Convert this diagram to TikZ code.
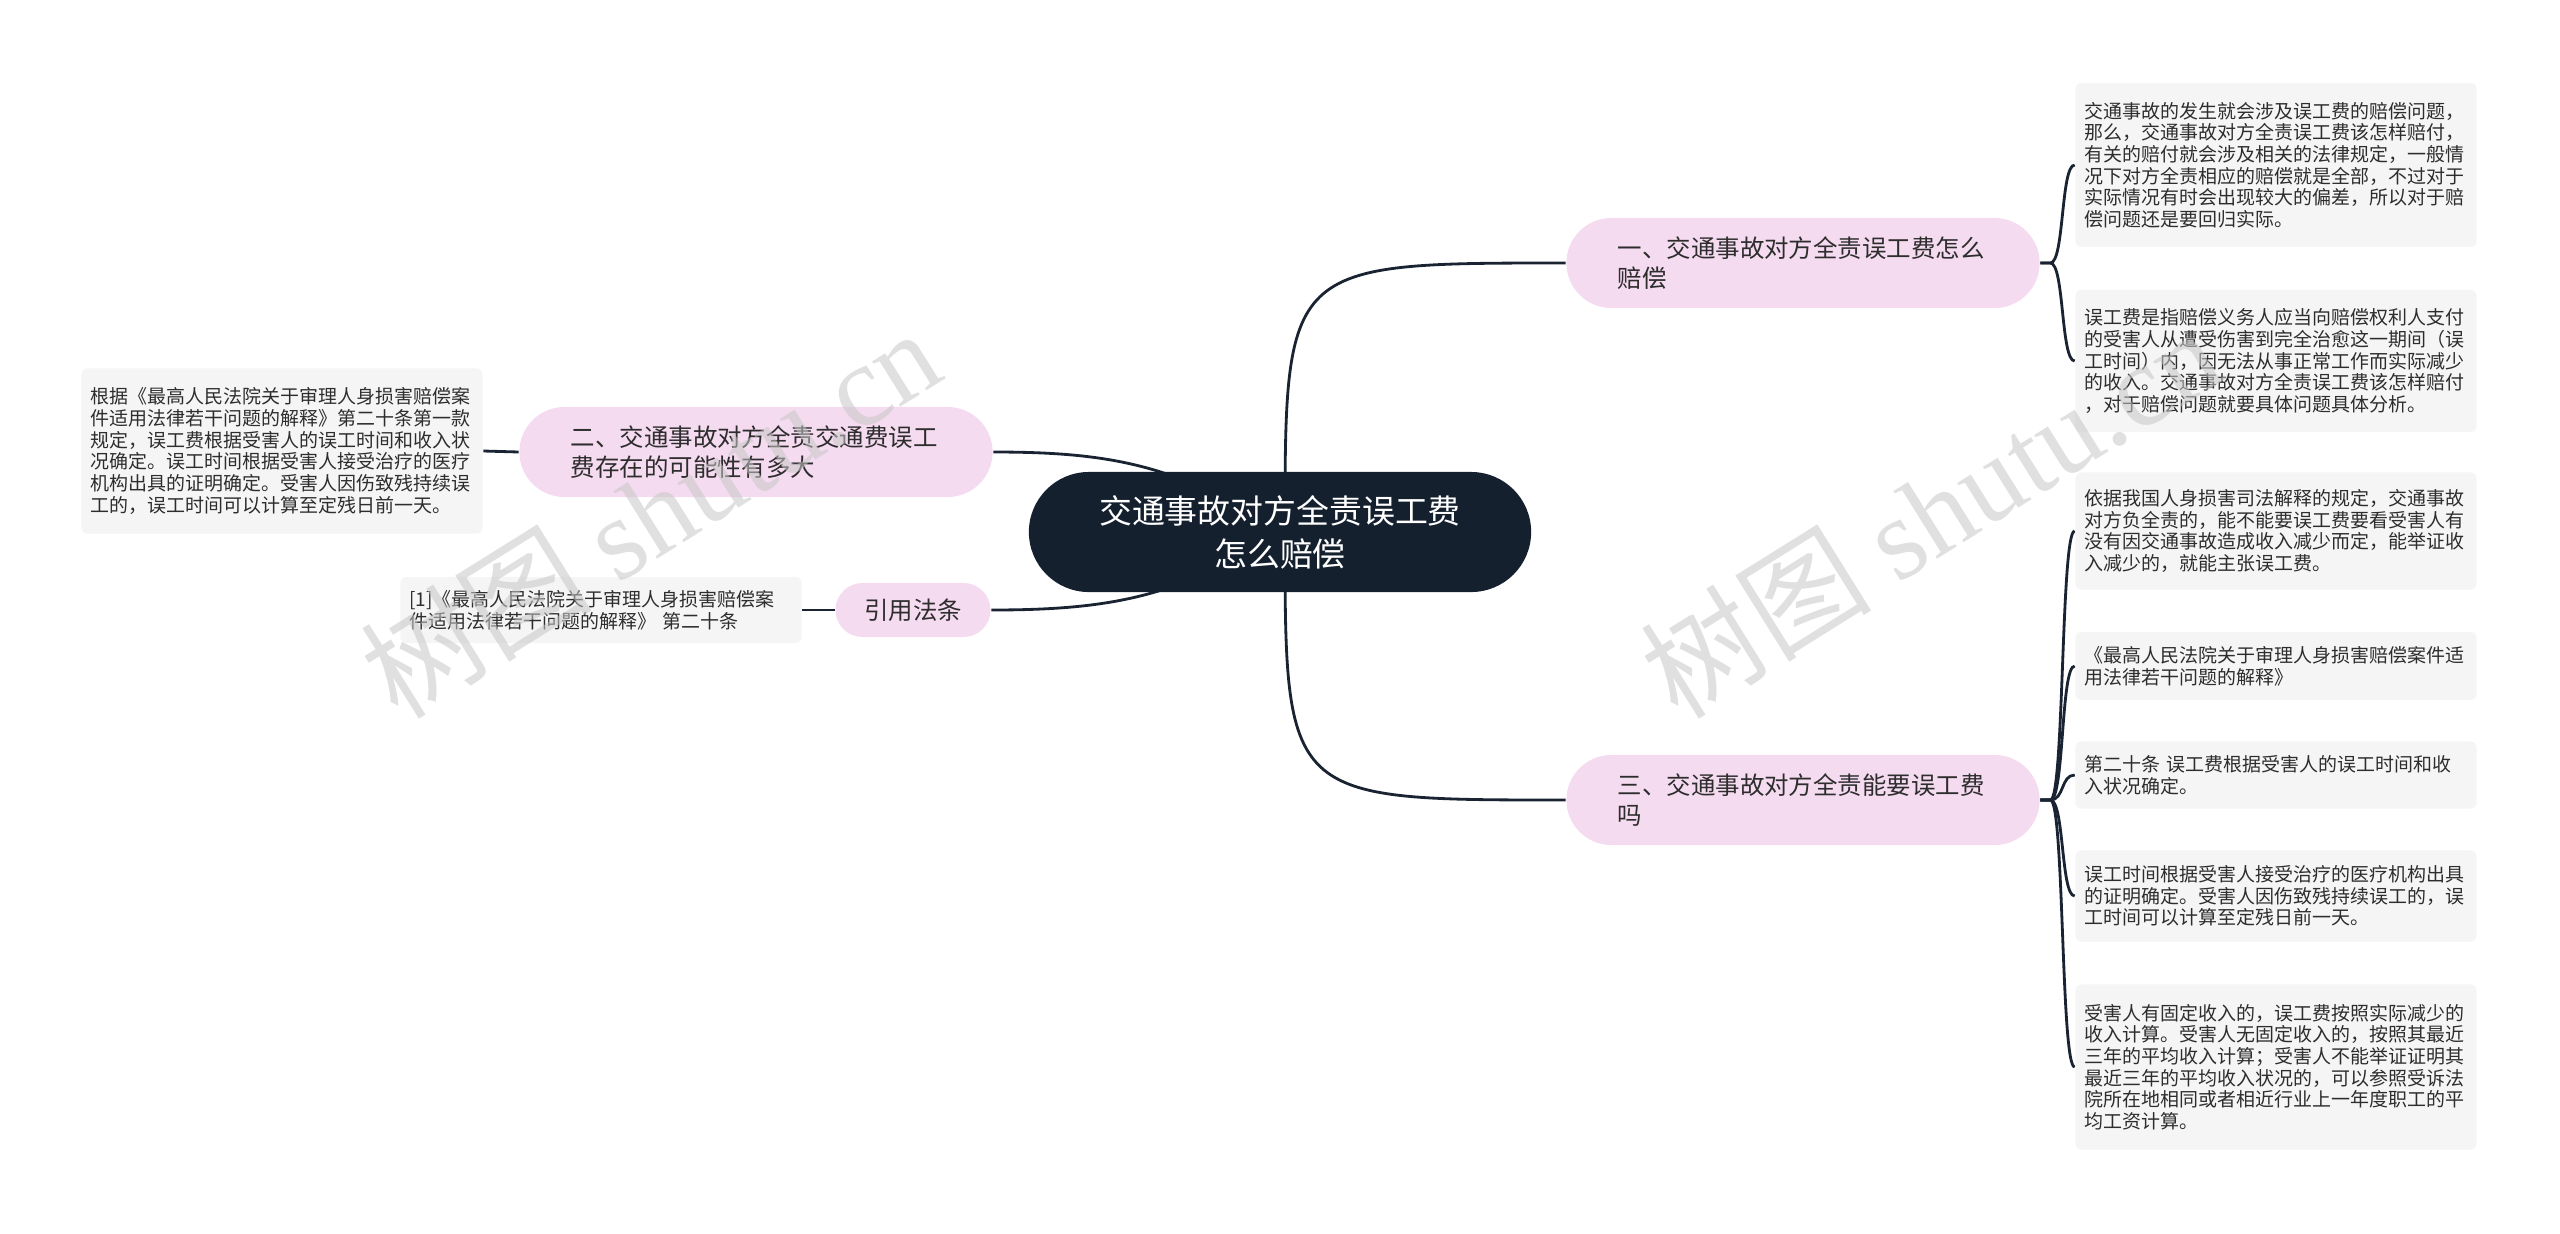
\documentclass[tikz,border=0pt]{standalone}
\usepackage{fontspec}
\setmainfont{Noto Sans CJK SC}
\newfontfamily\wmfont{Liberation Serif}
\usetikzlibrary{backgrounds,calc}

% Colours of the map
\definecolor{rootblue}{RGB}{21,32,47}
\definecolor{branchpink}{RGB}{245,219,240}
\definecolor{leafgray}{RGB}{245,245,245}
\definecolor{linedark}{RGB}{25,35,50}
\definecolor{textdark}{RGB}{45,45,45}

\tikzset{
  rootbox/.style={fill=rootblue, text=white, rounded corners=0.6cm,
    minimum width=5.02cm, minimum height=1.2cm, align=center,
    font=\fontsize{9.35}{12.2}\selectfont},
  branchbox/.style={fill=branchpink, text=textdark, rounded corners=0.45cm,
    minimum width=4.73cm, minimum height=0.9cm, text width=3.7cm, align=left,
    font=\fontsize{6.95}{8.5}\selectfont},
  leafbox/.style={fill=leafgray, text=textdark, rounded corners=0.06cm,
    text width=3.83cm, inner xsep=0.09cm, align=left,
    font=\fontsize{5.4}{6.17}\selectfont},
  link/.style={draw=linedark, line width=0.8pt},
  wmark/.style={text=gray!45, opacity=0.55, rotate=32,
    font=\fontsize{33}{33}\selectfont}
}

\begin{document}
\begin{tikzpicture}[x=0.01cm,y=-0.01cm]
\useasboundingbox (0,0) rectangle (2560,1233);

% Central topic
\node[rootbox] (root) at (1280,532) {交通事故对方全责误工费\\怎么赔偿};
\coordinate (hub) at (1285,532);

% Main branches
\node[branchbox] (b1) at (1803,263) {一、交通事故对方全责误工费怎么\\赔偿};
\node[branchbox] (b3) at (1803,800) {三、交通事故对方全责能要误工费\\吗};
\node[branchbox] (b2) at (756,452) {二、交通事故对方全责交通费误工\\费存在的可能性有多大};
\node[branchbox, minimum width=1.55cm, minimum height=0.54cm, text width=, align=center,
  rounded corners=0.27cm] (cite) at (913,610) {引用法条};

% Leaves of branch one
\node[leafbox, minimum height=1.64cm] (r1) at (2276,165) {交通事故的发生就会涉及误工费的赔偿问题，\\那么，交通事故对方全责误工费该怎样赔付，\\有关的赔付就会涉及相关的法律规定，一般情\\况下对方全责相应的赔偿就是全部，不过对于\\实际情况有时会出现较大的偏差，所以对于赔\\偿问题还是要回归实际。};
\node[leafbox, minimum height=1.42cm] (r2) at (2276,361) {误工费是指赔偿义务人应当向赔偿权利人支付\\的受害人从遭受伤害到完全治愈这一期间（误\\工时间）内，因无法从事正常工作而实际减少\\的收入。交通事故对方全责误工费该怎样赔付\\，对于赔偿问题就要具体问题具体分析。};

% Leaves of branch three
\node[leafbox, minimum height=1.17cm] (r3) at (2276,531) {依据我国人身损害司法解释的规定，交通事故\\对方负全责的，能不能要误工费要看受害人有\\没有因交通事故造成收入减少而定，能举证收\\入减少的，就能主张误工费。};
\node[leafbox, minimum height=0.68cm] (r4) at (2276,666) {《最高人民法院关于审理人身损害赔偿案件适\\用法律若干问题的解释》};
\node[leafbox, minimum height=0.67cm] (r5) at (2276,775) {第二十条 误工费根据受害人的误工时间和收\\入状况确定。};
\node[leafbox, minimum height=0.91cm] (r6) at (2276,896) {误工时间根据受害人接受治疗的医疗机构出具\\的证明确定。受害人因伤致残持续误工的，误\\工时间可以计算至定残日前一天。};
\node[leafbox, minimum height=1.65cm] (r7) at (2276,1067) {受害人有固定收入的，误工费按照实际减少的\\收入计算。受害人无固定收入的，按照其最近\\三年的平均收入计算；受害人不能举证证明其\\最近三年的平均收入状况的，可以参照受诉法\\院所在地相同或者相近行业上一年度职工的平\\均工资计算。};

% Leaves on the left
\node[leafbox, minimum height=1.65cm] (l1) at (282,451) {根据《最高人民法院关于审理人身损害赔偿案\\件适用法律若干问题的解释》第二十条第一款\\规定，误工费根据受害人的误工时间和收入状\\况确定。误工时间根据受害人接受治疗的医疗\\机构出具的证明确定。受害人因伤致残持续误\\工的，误工时间可以计算至定残日前一天。};
\node[leafbox, minimum height=0.66cm] (l2) at (601,610) {[1]《最高人民法院关于审理人身损害赔偿案\\件适用法律若干问题的解释》 第二十条};

% Connectors
\begin{scope}[on background layer]
\draw[link] (hub) .. controls (hub |- b1.west) .. (b1.west);
\draw[link] (hub) .. controls (hub |- b3.west) .. (b3.west);
\draw[link] (root.center) .. controls (1180,465) and (1110,452) .. (b2.east);
\draw[link] (root.center) .. controls (1180,597) and (1110,610) .. (cite.east);
\foreach \leaf in {r1,r2}
  \draw[link] (b1.east) -- ++(10,0) .. controls +(14,0) and +(-14,0) .. (\leaf.west);
\foreach \leaf in {r3,r4,r5,r6,r7}
  \draw[link] (b3.east) -- ++(10,0) .. controls +(14,0) and +(-14,0) .. (\leaf.west);
\draw[link] (b2.west) -- (l1.east);
\draw[link] (cite.west) -- (l2.east);
\end{scope}

% Watermarks
\node[wmark] (wm1) at (650,512) {树图 {\wmfont shutu.cn}};
\node[wmark] (wm2) at (1930,512) {树图 {\wmfont shutu.cn}};

\end{tikzpicture}
\end{document}
